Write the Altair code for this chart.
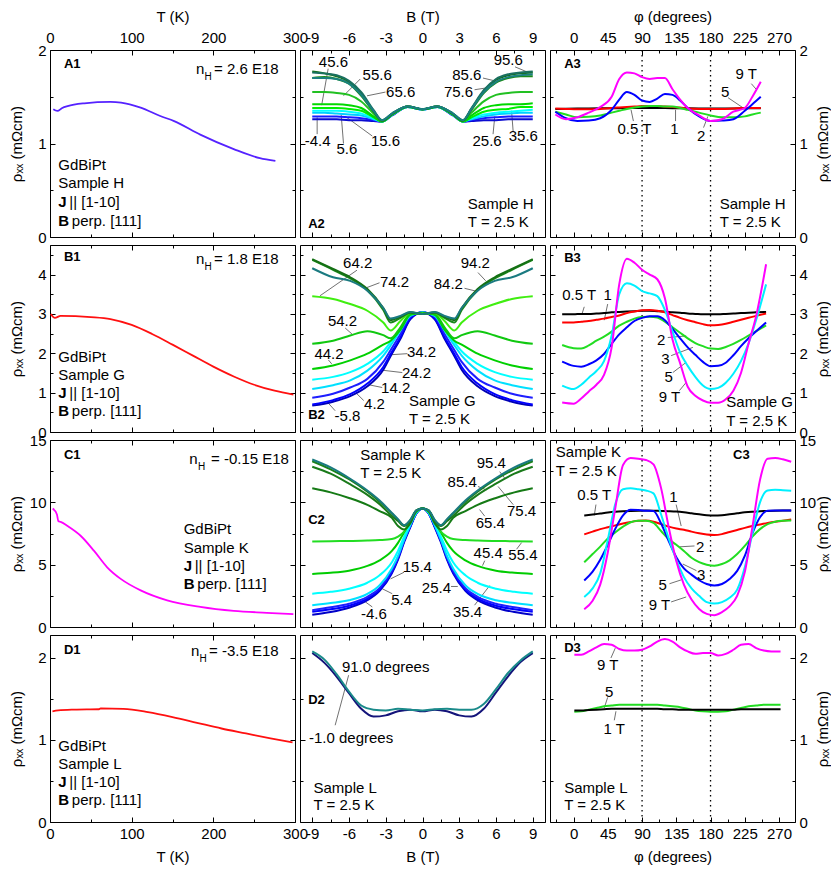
import altair as alt
import pandas as pd

FONT = "Liberation Sans"
FS = 15
W, H = 245, 187
RHO = "ρₓₓ (mΩcm)"

# ---------------- column 1 : rho(T) ----------------
A1_T = [4, 9, 15, 21.5, 42, 74, 87, 111, 135, 152, 184, 225, 257, 276]
A1_RHO = [1.366, 1.348, 1.38, 1.40, 1.43, 1.445, 1.438, 1.384, 1.294, 1.24, 1.095, 0.94, 0.843, 0.814]
B1_T = [1, 6, 13, 50, 74, 100, 125, 150, 175, 200, 225, 250, 275, 298]
B1_RHO = [3.0, 2.9, 2.95, 2.92, 2.87, 2.72, 2.49, 2.22, 1.94, 1.66, 1.41, 1.20, 1.05, 0.95]
C1_T = [3.3, 8.5, 10.2, 13, 21.5, 37.8, 54, 70, 86.6, 111, 143.5, 184, 225, 265.5, 298]
C1_RHO = [9.5, 9.02, 8.49, 8.44, 8.1, 7.3, 6.1, 4.79, 3.86, 2.94, 2.14, 1.61, 1.29, 1.14, 1.03]
D1_T = [3, 10, 30, 60, 62, 90, 120, 150, 180, 210, 240, 270, 297]
D1_RHO = [1.35, 1.36, 1.37, 1.375, 1.385, 1.38, 1.34, 1.28, 1.21, 1.14, 1.08, 1.02, 0.97]

# ---------------- column 2 : rho(B) ----------------
A2_B = [-9, -8, -7, -6, -5, -4, -3.3, -2.5, -1.2, 0, 1.2, 2.5, 3.3, 4, 5, 6, 7, 8, 9]
A2_R00 = [1.26, 1.26, 1.26, 1.25, 1.25, 1.24, 1.235, 1.30, 1.39, 1.365, 1.39, 1.30, 1.235, 1.24, 1.25, 1.25, 1.26, 1.26, 1.26]
A2_R01 = [1.29, 1.29, 1.29, 1.28, 1.27, 1.25, 1.235, 1.30, 1.39, 1.365, 1.39, 1.30, 1.235, 1.25, 1.27, 1.28, 1.29, 1.29, 1.29]
A2_R02 = [1.33, 1.33, 1.32, 1.31, 1.30, 1.26, 1.235, 1.305, 1.39, 1.365, 1.39, 1.305, 1.235, 1.26, 1.29, 1.31, 1.32, 1.33, 1.33]
A2_R03 = [1.35, 1.35, 1.35, 1.34, 1.32, 1.27, 1.235, 1.305, 1.39, 1.365, 1.39, 1.305, 1.235, 1.27, 1.31, 1.33, 1.34, 1.35, 1.36]
A2_R04 = [1.38, 1.38, 1.38, 1.37, 1.35, 1.28, 1.235, 1.305, 1.39, 1.366, 1.39, 1.305, 1.235, 1.28, 1.34, 1.36, 1.37, 1.39, 1.39]
A2_R05 = [1.42, 1.42, 1.42, 1.41, 1.38, 1.29, 1.235, 1.31, 1.393, 1.366, 1.393, 1.31, 1.235, 1.30, 1.38, 1.41, 1.42, 1.42, 1.43]
A2_R06 = [1.55, 1.55, 1.54, 1.52, 1.45, 1.32, 1.24, 1.31, 1.395, 1.366, 1.395, 1.31, 1.24, 1.33, 1.45, 1.52, 1.54, 1.55, 1.55]
A2_R07 = [1.70, 1.71, 1.69, 1.64, 1.51, 1.34, 1.245, 1.315, 1.395, 1.366, 1.395, 1.315, 1.245, 1.36, 1.54, 1.65, 1.70, 1.72, 1.72]
A2_R08 = [1.77, 1.75, 1.72, 1.66, 1.53, 1.35, 1.245, 1.315, 1.396, 1.366, 1.396, 1.315, 1.245, 1.37, 1.56, 1.68, 1.73, 1.75, 1.76]
A2_R09 = [1.76, 1.75, 1.73, 1.67, 1.55, 1.36, 1.25, 1.32, 1.397, 1.366, 1.397, 1.32, 1.25, 1.38, 1.57, 1.69, 1.74, 1.76, 1.77]
A2_R10 = [1.70, 1.70, 1.69, 1.64, 1.52, 1.35, 1.25, 1.32, 1.397, 1.366, 1.397, 1.32, 1.25, 1.37, 1.55, 1.66, 1.71, 1.73, 1.74]
A2_COLORS = ["#0a0ad0", "#1a1aff", "#00d0ff", "#00ffff", "#00f000", "#00d800", "#22c022",
             "#1a8a1a", "#127012", "#1a7060", "#1a8080"]

B2_B = [-9, -7.3, -5.9, -4.5, -3.2, -2.6, -1.8, -1, 0, 1, 1.8, 2.6, 3.2, 4.5, 5.9, 7.3, 9]
B2_R00 = [0.67, 0.77, 0.91, 1.16, 1.58, 1.93, 2.37, 2.86, 3.04, 2.86, 2.37, 1.93, 1.58, 1.16, 0.91, 0.77, 0.67]
B2_R01 = [0.70, 0.81, 0.96, 1.23, 1.65, 1.98, 2.41, 2.88, 3.04, 2.88, 2.41, 1.98, 1.65, 1.23, 0.96, 0.81, 0.70]
B2_R02 = [0.87, 0.97, 1.13, 1.35, 1.78, 2.08, 2.49, 2.92, 3.04, 2.92, 2.49, 2.08, 1.78, 1.35, 1.13, 0.97, 0.87]
B2_R03 = [1.09, 1.19, 1.31, 1.56, 1.94, 2.20, 2.58, 2.95, 3.04, 2.95, 2.58, 2.20, 1.94, 1.56, 1.31, 1.19, 1.09]
B2_R04 = [1.33, 1.40, 1.52, 1.73, 2.05, 2.28, 2.62, 2.97, 3.03, 2.97, 2.62, 2.28, 2.05, 1.73, 1.52, 1.40, 1.33]
B2_R05 = [1.60, 1.69, 1.82, 1.99, 2.22, 2.32, 2.60, 2.98, 3.03, 2.98, 2.60, 2.32, 2.22, 1.99, 1.82, 1.69, 1.60]
B2_R06 = [2.24, 2.32, 2.45, 2.56, 2.46, 2.38, 2.66, 3.00, 3.02, 3.00, 2.66, 2.38, 2.46, 2.56, 2.45, 2.32, 2.24]
B2_R07 = [3.45, 3.38, 3.25, 3.08, 2.78, 2.58, 2.82, 3.02, 3.01, 3.02, 2.82, 2.58, 2.78, 3.08, 3.25, 3.38, 3.45]
B2_R08 = [4.37, 4.12, 3.90, 3.60, 3.10, 2.78, 2.90, 3.03, 3.00, 3.03, 2.90, 2.78, 3.10, 3.60, 3.90, 4.12, 4.37]
B2_R09 = [4.39, 4.14, 3.93, 3.63, 3.15, 2.84, 2.93, 3.04, 3.00, 3.04, 2.93, 2.84, 3.15, 3.63, 3.93, 4.14, 4.39]
B2_R10 = [4.16, 3.93, 3.84, 3.59, 3.15, 2.88, 2.95, 3.05, 3.00, 3.05, 2.95, 2.88, 3.15, 3.59, 3.84, 3.93, 4.16]
B2_COLORS = ["#0000b4", "#0000ff", "#1e1eff", "#00e0ff", "#00ffff", "#00d000", "#10c810",
             "#40ee10", "#1a8a1a", "#157015", "#1a7a80"]

C2_B = [-9, -7.5, -6, -4.5, -3.5, -2.5, -2, -1.5, -1, -0.5, 0, 0.5, 1, 1.5, 2, 2.5, 3.5, 4.5, 6, 7.5, 9]
C2_R00 = [0.98, 1.2, 1.55, 2.15, 2.9, 4.3, 5.4, 6.8, 8.0, 9.1, 9.5, 9.1, 8.0, 6.8, 5.4, 4.3, 2.9, 2.15, 1.55, 1.2, 0.98]
C2_R01 = [1.22, 1.42, 1.70, 2.28, 3.0, 4.4, 5.5, 6.9, 8.05, 9.1, 9.5, 9.1, 8.05, 6.9, 5.5, 4.4, 3.0, 2.28, 1.70, 1.42, 1.22]
C2_R02 = [1.35, 1.58, 1.86, 2.42, 3.12, 4.5, 5.55, 6.95, 8.1, 9.12, 9.5, 9.12, 8.1, 6.95, 5.55, 4.5, 3.12, 2.42, 1.86, 1.58, 1.35]
C2_R03 = [1.75, 1.92, 2.14, 2.65, 3.35, 4.7, 5.7, 7.0, 8.15, 9.15, 9.5, 9.15, 8.15, 7.0, 5.7, 4.7, 3.35, 2.65, 2.14, 1.92, 1.75]
C2_R04 = [2.67, 2.82, 3.07, 3.55, 4.15, 5.2, 6.1, 7.25, 8.25, 9.2, 9.5, 9.2, 8.25, 7.25, 6.1, 5.2, 4.15, 3.55, 3.07, 2.82, 2.67]
C2_R05 = [4.26, 4.35, 4.52, 4.9, 5.35, 6.1, 6.75, 7.6, 8.45, 9.25, 9.5, 9.25, 8.45, 7.6, 6.75, 6.1, 5.35, 4.9, 4.52, 4.35, 4.26]
C2_R06 = [6.85, 6.88, 6.9, 6.93, 6.97, 7.05, 7.25, 7.65, 8.5, 9.3, 9.5, 9.3, 8.5, 7.65, 7.25, 7.05, 6.97, 6.93, 6.9, 6.88, 6.85]
C2_R07 = [11.13, 10.8, 10.35, 9.8, 9.3, 8.75, 8.1, 7.83, 8.3, 9.3, 9.5, 9.3, 8.3, 7.83, 8.1, 8.75, 9.3, 9.8, 10.35, 10.8, 11.13]
C2_R08 = [12.86, 12.3, 11.5, 10.6, 9.85, 8.9, 8.5, 8.1, 8.5, 9.35, 9.5, 9.35, 8.5, 8.1, 8.5, 8.9, 9.85, 10.6, 11.5, 12.3, 12.86]
C2_R09 = [13.3, 12.65, 11.85, 10.85, 10.05, 9.1, 8.6, 8.15, 8.55, 9.35, 9.5, 9.35, 8.55, 8.15, 8.6, 9.1, 10.05, 10.85, 11.85, 12.65, 13.3]
C2_R10 = [13.44, 12.8, 11.95, 10.95, 10.15, 9.15, 8.65, 8.17, 8.6, 9.35, 9.5, 9.35, 8.6, 8.17, 8.65, 9.15, 10.15, 10.95, 11.95, 12.8, 13.44]
C2_COLORS = ["#0000c8", "#0000ff", "#1e1eff", "#00e0ff", "#00ffff", "#00cc00", "#22dd22",
             "#157a15", "#1a7a1a", "#1a801a", "#1a7a80"]

D2_B = [-9, -8, -7, -6, -5, -4, -3, -2, -1, 0, 1, 2, 3, 4, 5, 6, 7, 8, 9]
D2_M1 = [2.06, 1.94, 1.77, 1.57, 1.38, 1.285, 1.30, 1.35, 1.37, 1.35, 1.37, 1.35, 1.30, 1.285, 1.38, 1.58, 1.78, 1.95, 2.06]
D2_91 = [2.08, 1.98, 1.80, 1.59, 1.42, 1.37, 1.36, 1.38, 1.37, 1.36, 1.375, 1.38, 1.37, 1.37, 1.44, 1.62, 1.82, 1.97, 2.08]
D2_COLORS = ["#14147a", "#1a8a8a"]

# ---------------- column 3 : rho(phi) ----------------
A3_PHI = [-24, -10, 5, 20, 35, 50, 60, 70, 80, 90, 100, 110, 120, 130, 140, 150, 165, 180, 195, 210, 225, 235, 246]
A3_05T = [1.37, 1.372, 1.374, 1.375, 1.376, 1.377, 1.378, 1.379, 1.38, 1.38, 1.38, 1.38, 1.379, 1.378, 1.377, 1.376, 1.375, 1.374, 1.374, 1.375, 1.376, 1.377, 1.378]
A3_1T = [1.375, 1.37, 1.365, 1.365, 1.37, 1.38, 1.385, 1.39, 1.395, 1.40, 1.40, 1.40, 1.395, 1.39, 1.385, 1.375, 1.37, 1.37, 1.37, 1.375, 1.38, 1.38, 1.38]
A3_2T = [1.34, 1.31, 1.28, 1.285, 1.30, 1.33, 1.35, 1.37, 1.385, 1.395, 1.40, 1.40, 1.395, 1.395, 1.38, 1.36, 1.33, 1.30, 1.28, 1.28, 1.29, 1.31, 1.33]
A3_5T = [1.34, 1.27, 1.24, 1.245, 1.27, 1.36, 1.47, 1.55, 1.52, 1.46, 1.445, 1.48, 1.53, 1.52, 1.46, 1.38, 1.29, 1.24, 1.245, 1.26, 1.35, 1.42, 1.50]
A3_9T = [1.31, 1.26, 1.28, 1.33, 1.39, 1.50, 1.69, 1.76, 1.75, 1.71, 1.69, 1.70, 1.70, 1.58, 1.47, 1.38, 1.30, 1.24, 1.26, 1.34, 1.38, 1.50, 1.66]
A3_COLORS = ["#000000", "#ff0000", "#22dd22", "#0000ff", "#ff00ff"]

B3_PHI = [-15, 0, 10, 20, 30, 40, 50, 60, 70, 80, 90, 100, 110, 120, 130, 140, 150, 160, 170, 180, 190, 200, 210, 220, 230, 240, 253]
B3_05T = [2.99, 2.99, 3.0, 3.0, 3.01, 3.02, 3.04, 3.05, 3.06, 3.07, 3.08, 3.08, 3.07, 3.06, 3.04, 3.03, 3.01, 3.0, 2.99, 2.99, 2.99, 3.0, 3.01, 3.02, 3.03, 3.04, 3.05]
B3_1T = [2.78, 2.78, 2.80, 2.82, 2.85, 2.88, 2.92, 2.96, 3.02, 3.06, 3.09, 3.10, 3.08, 3.04, 2.97, 2.90, 2.84, 2.79, 2.74, 2.71, 2.72, 2.75, 2.80, 2.85, 2.90, 2.95, 3.01]
B3_2T = [2.21, 2.13, 2.12, 2.20, 2.32, 2.42, 2.55, 2.70, 2.80, 2.88, 2.92, 2.93, 2.91, 2.80, 2.66, 2.52, 2.38, 2.26, 2.18, 2.12, 2.11, 2.16, 2.24, 2.34, 2.45, 2.56, 2.71]
B3_3T = [1.79, 1.68, 1.66, 1.72, 1.82, 1.98, 2.24, 2.48, 2.66, 2.82, 2.90, 2.94, 2.94, 2.84, 2.62, 2.38, 2.15, 1.96, 1.78, 1.67, 1.68, 1.76, 1.95, 2.18, 2.38, 2.56, 2.78]
B3_5T = [1.18, 1.09, 1.20, 1.38, 1.55, 1.80, 2.45, 3.50, 3.78, 3.72, 3.58, 3.52, 3.45, 3.10, 2.55, 2.02, 1.68, 1.40, 1.18, 1.09, 1.12, 1.25, 1.48, 1.80, 2.25, 2.85, 3.75]
B3_9T = [0.75, 0.72, 0.85, 1.03, 1.20, 1.45, 2.15, 3.75, 4.40, 4.30, 4.12, 4.0, 3.88, 3.40, 2.35, 1.75, 1.15, 0.92, 0.80, 0.74, 0.74, 0.83, 1.05, 1.50, 2.25, 2.95, 4.26]
B3_COLORS = ["#000000", "#ff0000", "#22dd22", "#0000ff", "#00f0ff", "#ff00ff"]

C3_PHI = [14, 25, 35, 45, 55, 65, 75, 85, 95, 105, 115, 125, 135, 145, 155, 165, 175, 185, 195, 205, 215, 225, 235, 245, 255, 265, 275, 286]
C3_05T = [8.94, 9.02, 9.1, 9.18, 9.24, 9.28, 9.31, 9.33, 9.34, 9.33, 9.31, 9.29, 9.26, 9.2, 9.12, 9.04, 8.97, 8.94, 8.97, 9.04, 9.12, 9.2, 9.25, 9.28, 9.31, 9.33, 9.34, 9.34]
C3_1T = [7.43, 7.65, 7.85, 8.0, 8.15, 8.3, 8.42, 8.52, 8.54, 8.45, 8.25, 8.05, 7.9, 7.8, 7.65, 7.52, 7.42, 7.38, 7.45, 7.62, 7.78, 7.95, 8.1, 8.22, 8.35, 8.45, 8.52, 8.62]
C3_2T = [5.19, 5.85, 6.45, 7.1, 7.6, 8.05, 8.4, 8.52, 8.52, 8.35, 7.7, 7.05, 6.6, 6.1, 5.55, 5.2, 5.0, 4.92, 5.05, 5.35, 5.85, 6.5, 7.25, 7.85, 8.25, 8.45, 8.52, 8.54]
C3_3T = [3.73, 4.45, 5.4, 6.6, 7.9, 8.95, 9.4, 9.38, 9.33, 9.3, 8.3, 6.9, 5.6, 4.7, 4.2, 3.75, 3.45, 3.33, 3.45, 3.85, 4.5, 5.7, 7.5, 8.8, 9.32, 9.35, 9.34, 9.34]
C3_5T = [2.41, 3.1, 4.3, 7.0, 9.9, 11.05, 11.12, 11.05, 10.95, 10.72, 9.02, 7.1, 5.4, 4.0, 3.1, 2.5, 2.0, 1.88, 2.0, 2.35, 3.0, 4.8, 7.5, 10.0, 10.95, 11.0, 10.97, 10.93]
C3_9T = [1.42, 2.1, 3.4, 6.0, 9.6, 13.0, 13.55, 13.5, 13.4, 13.05, 11.14, 8.0, 5.3, 3.4, 2.2, 1.45, 1.05, 0.95, 1.2, 1.65, 2.5, 4.4, 8.0, 11.8, 13.5, 13.55, 13.45, 13.25]
C3_COLORS = B3_COLORS

D3_PHI = [1, 10, 20, 30, 40, 50, 60, 70, 80, 90, 100, 110, 120, 130, 140, 150, 160, 170, 180, 190, 200, 210, 220, 230, 240, 250, 260, 272]
D3_5T = [1.345, 1.35, 1.37, 1.39, 1.41, 1.42, 1.43, 1.43, 1.43, 1.43, 1.43, 1.43, 1.42, 1.41, 1.40, 1.38, 1.36, 1.35, 1.345, 1.345, 1.35, 1.37, 1.39, 1.41, 1.42, 1.43, 1.43, 1.43]
D3_1T = [1.36, 1.36, 1.365, 1.37, 1.375, 1.38, 1.38, 1.38, 1.38, 1.38, 1.38, 1.38, 1.375, 1.375, 1.37, 1.37, 1.37, 1.37, 1.37, 1.37, 1.37, 1.37, 1.375, 1.375, 1.375, 1.375, 1.375, 1.375]
D3_9T = [2.04, 2.04, 2.08, 2.13, 2.17, 2.16, 2.11, 2.09, 2.09, 2.10, 2.14, 2.20, 2.23, 2.20, 2.13, 2.08, 2.05, 2.06, 2.06, 2.03, 2.05, 2.10, 2.16, 2.17, 2.12, 2.09, 2.08, 2.08]
D3_COLORS = ["#22dd22", "#000000", "#ff00ff"]

# ---------------- axes ----------------
T_DOM, B_DOM, P_DOM = [0, 300], [-10, 10], [-31, 291]
YA, YB, YC, YD = [0, 2], [0, 4.75], [0, 15], [0, 2.28]
T_MAJ, T_MIN = [0, 100, 200, 300], [50, 150, 250]
B_MAJ, B_MIN = [-9, -6, -3, 0, 3, 6, 9], [-7.5, -4.5, -1.5, 1.5, 4.5, 7.5]
P_MAJ, P_MIN = [0, 45, 90, 135, 180, 225, 270], [-22.5, 22.5, 67.5, 112.5, 157.5, 202.5, 247.5]
YA_MAJ, YA_MIN = [0, 1, 2], [0.5, 1.5]
YB_MAJ, YB_MIN = [0, 1, 2, 3, 4], [0.5, 1.5, 2.5, 3.5, 4.5]
YC_MAJ, YC_MIN = [0, 5, 10, 15], [2.5, 7.5, 12.5]
YD_MAJ, YD_MIN = [0, 1, 2], [0.5, 1.5]
PHI_LINES = [90, 180]

LPAD = {"bottom": 4, "top": 5, "left": 4, "right": 4}
EXT = {"bottom": 24, "top": 24, "left": 23, "right": 24}
TPAD = {"bottom": 8, "top": 7, "left": 8, "right": 16}


def mk_axis(orient, values, size, labels=False, title=None):
    kw = dict(orient=orient, values=values, tickSize=size, offset=-size, domain=False, grid=False,
              ticks=True, tickColor="black", tickWidth=1, labels=labels, title=title)
    if labels:
        kw.update(labelFont=FONT, labelFontSize=FS, labelColor="black", labelPadding=LPAD[orient],
                  labelExpr="'' + datum.value", labelOverlap=False, labelFlush=False,
                  minExtent=EXT[orient], maxExtent=EXT[orient])
    else:
        kw.update(minExtent=0, maxExtent=0)
    if title:
        kw.update(titleFont=FONT, titleFontSize=FS, titleFontWeight="normal", titleColor="black",
                  titlePadding=TPAD[orient])
        if orient == "right":
            kw["titleAngle"] = 270
    return alt.Axis(**kw)


def series_df(xs, ys_list, colors):
    rows = []
    for k, (ys, c) in enumerate(zip(ys_list, colors)):
        for x, y in zip(xs, ys):
            rows.append({"x": x, "y": y, "s": k, "c": c})
    return pd.DataFrame(rows)


def panel(xdom, ydom, xmaj, xmin_, ymaj, ymin_, lines, width=2.0, bold=(), label=(), left=(), center=(),
          sub=(), lead=(), vlines=None, top_title=None, bot_title=None, ylab_left=False, ylab_right=False):
    sx = alt.Scale(domain=xdom, nice=False, zero=False)
    sy = alt.Scale(domain=ydom, nice=False, zero=False)

    def XY():
        return dict(x=alt.X("x:Q", scale=sx, axis=None), y=alt.Y("y:Q", scale=sy, axis=None))

    layers = []
    if vlines is not None:
        layers.append(alt.Chart(pd.DataFrame({"x": vlines})).mark_rule(
            color="black", strokeWidth=1.3, strokeDash=[1.5, 3.5]).encode(
            x=alt.X("x:Q", scale=sx, axis=None)))
    if lead:
        ld = pd.DataFrame(list(lead), columns=["x", "y", "x2", "y2"])
        layers.append(alt.Chart(ld).mark_rule(color="#333333", strokeWidth=0.7).encode(
            **XY(), x2="x2:Q", y2="y2:Q"))
    layers.append(alt.Chart(lines).mark_line(interpolate="monotone", strokeWidth=width, clip=True).encode(
        **XY(), color=alt.Color("c:N", scale=None), detail="s:N"))

    def tl(rows, align, weight, size):
        d = pd.DataFrame(list(rows), columns=["t", "x", "y"])
        return alt.Chart(d).mark_text(align=align, baseline="middle", font=FONT, fontSize=size,
                                      fontWeight=weight, color="black").encode(**XY(), text="t:N")
    if label:
        layers.append(tl(label, "left", "bold", 13))
    if bold:
        layers.append(tl(bold, "left", "bold", FS))
    if left:
        layers.append(tl(left, "left", "normal", FS))
    if center:
        layers.append(tl(center, "center", "normal", FS))
    if sub:
        layers.append(tl(sub, "left", "normal", 10))

    dummy = pd.DataFrame({"x": [xdom[0]], "y": [ydom[0]]})

    def ax_layer(axx, axy):
        return alt.Chart(dummy).mark_point(opacity=0).encode(
            x=alt.X("x:Q", scale=sx, axis=axx), y=alt.Y("y:Q", scale=sy, axis=axy))

    layers += [
        ax_layer(mk_axis("bottom", xmaj, 5, bot_title is not None, bot_title),
                 mk_axis("left", ymaj, 5, ylab_left, RHO if ylab_left else None)),
        ax_layer(mk_axis("top", xmaj, 5, top_title is not None, top_title),
                 mk_axis("right", ymaj, 5, ylab_right, RHO if ylab_right else None)),
        ax_layer(mk_axis("bottom", xmin_, 3), mk_axis("left", ymin_, 3)),
        ax_layer(mk_axis("top", xmin_, 3), mk_axis("right", ymin_, 3)),
    ]
    return alt.layer(*layers).resolve_axis(x="independent", y="independent").properties(width=W, height=H)


def block(x, y0, y1, y2, y3, sample, dxj, dxb):
    left = [("GdBiPt", x, y0), (sample, x, y1), ("|| [1-10]", x + dxj, y2), ("perp. [111]", x + dxb, y3)]
    bold = [("J", x, y2), ("B", x, y3)]
    return left, bold


# ---------- column 1 panels ----------
l, b = block(10.2, 0.77, 0.573, 0.375, 0.176, "Sample H", 13.5, 16.5)
pA1 = panel(T_DOM, YA, T_MAJ, T_MIN, YA_MAJ, YA_MIN, series_df(A1_T, [A1_RHO], ["#5522ff"]), width=1.8,
            label=[("A1", 17, 1.85)], bold=b,
            left=l + [("n", 178.8, 1.80), ("= 2.6 E18", 200.8, 1.80)], sub=[("H", 189.2, 1.71)],
            top_title="T (K)", ylab_left=True)
l, b = block(10.2, 1.91, 1.46, 1.0, 0.54, "Sample G", 13.5, 16.5)
pB1 = panel(T_DOM, YB, T_MAJ, T_MIN, YB_MAJ, YB_MIN, series_df(B1_T, [B1_RHO], ["#ff1010"]), width=1.8,
            label=[("B1", 17, 4.44)], bold=b,
            left=l + [("n", 178.8, 4.39), ("= 1.8 E18", 200.8, 4.39)], sub=[("H", 189.2, 4.19)],
            ylab_left=True)
l, b = block(163.7, 7.83, 6.37, 4.92, 3.47, "Sample K", 13.5, 16.5)
pC1 = panel(T_DOM, YC, T_MAJ, T_MIN, YC_MAJ, YC_MIN, series_df(C1_T, [C1_RHO], ["#ff00ff"]), width=1.8,
            label=[("C1", 17, 13.8)], bold=b,
            left=l + [("n", 170.6, 13.47), ("= -0.15 E18", 197.1, 13.47)], sub=[("H", 181.2, 12.86)],
            ylab_left=True)
l, b = block(10.2, 0.93, 0.71, 0.49, 0.27, "Sample L", 13.5, 16.5)
pD1 = panel(T_DOM, YD, T_MAJ, T_MIN, YD_MAJ, YD_MIN, series_df(D1_T, [D1_RHO], ["#ff1010"]), width=1.8,
            label=[("D1", 17, 2.10)], bold=b,
            left=l + [("n", 172.6, 2.085), ("= -3.5 E18", 194.7, 2.085)], sub=[("H", 183, 1.99)],
            bot_title="T (K)", ylab_left=True)

# ---------- column 2 panels ----------
pA2 = panel(B_DOM, YA, B_MAJ, B_MIN, YA_MAJ, YA_MIN,
            series_df(A2_B, [A2_R00, A2_R01, A2_R02, A2_R03, A2_R04, A2_R05, A2_R06, A2_R07, A2_R08, A2_R09, A2_R10], A2_COLORS),
            label=[("A2", -9.33, 0.14)],
            left=[("Sample H", 3.7, 0.357), ("T = 2.5 K", 3.7, 0.16)],
            center=[("45.6", -7.27, 1.87), ("55.6", -3.7, 1.73), ("65.6", -1.78, 1.55), ("-4.4", -8.56, 1.03),
                    ("5.6", -6.17, 0.94), ("15.6", -3.02, 1.03), ("95.6", 7.0, 1.89), ("85.6", 3.62, 1.73),
                    ("75.6", 2.94, 1.55), ("25.6", 5.27, 1.03), ("35.6", 8.23, 1.08)],
            lead=[(-7.7, 1.80, -8.23, 1.41), (-5.08, 1.69, -6.45, 1.51), (-3.02, 1.55, -4.53, 1.51),
                  (-8.6, 1.10, -8.6, 1.28), (-6.45, 1.0, -6.64, 1.31), (-4.1, 1.08, -6.3, 1.29),
                  (7.55, 1.82, 8.64, 1.76), (4.94, 1.70, 5.9, 1.67), (4.25, 1.575, 5.49, 1.60),
                  (5.76, 1.10, 5.9, 1.29), (7.4, 1.13, 7.27, 1.35)],
            top_title="B (T)")
pB2 = panel(B_DOM, YB, B_MAJ, B_MIN, YB_MAJ, YB_MIN,
            series_df(B2_B, [B2_R00, B2_R01, B2_R02, B2_R03, B2_R04, B2_R05, B2_R06, B2_R07, B2_R08, B2_R09, B2_R10], B2_COLORS),
            label=[("B2", -9.33, 0.42)],
            left=[("Sample G", -1.1, 0.78), ("T = 2.5 K", -1.1, 0.33)],
            center=[("64.2", -5.29, 4.30), ("74.2", -2.28, 3.82), ("54.2", -6.53, 2.81), ("44.2", -7.63, 1.99),
                    ("34.2", -0.08, 2.02), ("24.2", -0.49, 1.51), ("14.2", -2.19, 1.12), ("4.2", -3.92, 0.71),
                    ("-5.8", -6.12, 0.40), ("94.2", 4.31, 4.30), ("84.2", 2.11, 3.75)],
            lead=[(-5.35, 4.11, -8.37, 3.46), (-3.51, 3.79, -4.53, 3.67), (-6.31, 2.64, -5.76, 2.49),
                  (-7.68, 1.83, -7.41, 1.73), (-1.23, 1.99, -2.74, 1.96), (-1.65, 1.51, -3.29, 1.57),
                  (-3.29, 1.13, -4.39, 1.20), (-4.8, 0.80, -5.35, 0.97), (-7.13, 0.54, -7.68, 0.73),
                  (4.53, 4.05, 5.16, 3.84), (3.43, 3.65, 4.34, 3.58)])
pC2 = panel(B_DOM, YC, B_MAJ, B_MIN, YC_MAJ, YC_MIN,
            series_df(C2_B, [C2_R00, C2_R01, C2_R02, C2_R03, C2_R04, C2_R05, C2_R06, C2_R07, C2_R08, C2_R09, C2_R10], C2_COLORS),
            label=[("C2", -9.33, 8.62)],
            left=[("Sample K", -5.08, 13.78), ("T = 2.5 K", -5.08, 12.33)],
            center=[("95.4", 5.62, 13.12), ("85.4", 3.24, 11.67), ("75.4", 8.09, 9.29), ("65.4", 5.54, 8.36),
                    ("55.4", 8.2, 5.8), ("45.4", 5.36, 5.9), ("15.4", -0.42, 4.79), ("25.4", 1.14, 3.12),
                    ("5.4", -1.7, 2.17), ("-4.6", -3.97, 1.08), ("35.4", 3.68, 1.21)],
            lead=[(6.3, 12.46, 6.72, 11.93), (4.53, 11.27, 5.21, 11.0), (7.41, 9.81, 6.17, 11.27),
                  (5.08, 8.89, 4.66, 9.42), (7.68, 6.24, 8.09, 6.77), (5.08, 5.32, 4.9, 4.92),
                  (-1.51, 4.39, -2.61, 3.86), (2.33, 3.25, 2.88, 3.25), (-2.47, 2.67, -3.29, 3.07),
                  (-4.1, 1.61, -4.66, 2.01), (4.25, 1.75, 5.49, 3.33)])
pD2 = panel(B_DOM, YD, B_MAJ, B_MIN, YD_MAJ, YD_MIN, series_df(D2_B, [D2_M1, D2_91], D2_COLORS),
            label=[("D2", -9.33, 1.49)],
            left=[("91.0 degrees", -6.58, 1.89), ("-1.0 degrees", -9.27, 1.03),
                  ("Sample L", -8.9, 0.42), ("T = 2.5 K", -8.9, 0.21)],
            lead=[(-6.03, 1.79, -7.13, 1.18)],
            bot_title="B (T)")

# ---------- column 3 panels ----------
pA3 = panel(P_DOM, YA, P_MAJ, P_MIN, YA_MAJ, YA_MIN,
            series_df(A3_PHI, [A3_05T, A3_1T, A3_2T, A3_5T, A3_9T], A3_COLORS), vlines=PHI_LINES,
            label=[("A3", -12.4, 1.85)],
            left=[("Sample H", 192, 0.357), ("T = 2.5 K", 192, 0.16)],
            center=[("9 T", 227, 1.74), ("5", 199.3, 1.55), ("0.5 T", 79.9, 1.15), ("1", 132.6, 1.15), ("2", 167.7, 1.08)],
            lead=[(233.6, 1.64, 240, 1.58), (203, 1.49, 224.8, 1.37), (78.6, 1.24, 75.5, 1.36),
                  (134, 1.24, 134, 1.36), (170.8, 1.17, 176.5, 1.29)],
            top_title="φ (degrees)", ylab_right=True)
pB3 = panel(P_DOM, YB, P_MAJ, P_MIN, YB_MAJ, YB_MIN,
            series_df(B3_PHI, [B3_05T, B3_1T, B3_2T, B3_3T, B3_5T, B3_9T], B3_COLORS), vlines=PHI_LINES,
            label=[("B3", -12.4, 4.41)],
            left=[("Sample G", 200.7, 0.75), ("T = 2.5 K", 200.7, 0.27)],
            center=[("0.5 T", 7.4, 3.48), ("1", 44.8, 3.48), ("2", 115, 2.33), ("3", 120.8, 1.85),
                    ("5", 125.1, 1.39), ("9 T", 126, 0.88)],
            lead=[(14, 3.18, 10.9, 2.99), (44.8, 3.25, 40.3, 2.84), (123.8, 2.40, 148, 2.44),
                  (128.2, 1.94, 156.8, 2.15), (130.4, 1.51, 148, 1.77), (139, 1.05, 148, 1.26)],
            ylab_right=True)
pC3 = panel(P_DOM, YC, P_MAJ, P_MIN, YC_MAJ, YC_MIN,
            series_df(C3_PHI, [C3_05T, C3_1T, C3_2T, C3_3T, C3_5T, C3_9T], C3_COLORS), vlines=PHI_LINES,
            label=[("C3", 209.5, 13.78)],
            left=[("Sample K", -23.3, 14.05), ("T = 2.5 K", -23.3, 12.5)],
            center=[("0.5 T", 27.2, 10.61), ("1", 131.3, 10.4), ("2", 166.4, 6.43), ("3", 167.7, 4.21),
                    ("5", 117.2, 3.33), ("9 T", 112.8, 1.75)],
            lead=[(29.4, 9.82, 27.2, 8.94), (134.8, 9.82, 141.4, 8.1), (158.9, 6.5, 139.1, 6.43),
                  (161.5, 4.52, 143.6, 5.05), (126, 3.47, 141.4, 3.78), (128.2, 2.01, 148, 2.41)],
            ylab_right=True)
pD3 = panel(P_DOM, YD, P_MAJ, P_MIN, YD_MAJ, YD_MIN,
            series_df(D3_PHI, [D3_5T, D3_1T, D3_9T], D3_COLORS), vlines=PHI_LINES,
            label=[("D3", -12.4, 2.12)],
            left=[("Sample L", -12.4, 0.42), ("T = 2.5 K", -12.4, 0.21)],
            center=[("9 T", 44.8, 1.91), ("5", 46.9, 1.59), ("1 T", 53.5, 1.14)],
            lead=[(49.1, 2.0, 54.8, 2.12), (44.8, 1.52, 40.3, 1.39), (53.5, 1.24, 55.7, 1.35)],
            bot_title="φ (degrees)", ylab_right=True)

chart = alt.concat(pA1, pA2, pA3, pB1, pB2, pB3, pC1, pC2, pC3, pD1, pD2, pD3,
                   columns=3, spacing={"row": 8, "column": 5}, bounds="flush").properties(
    background="white", padding={"left": 0, "top": 0, "right": 0, "bottom": 0}
).configure_view(stroke="black", strokeWidth=1)

chart.save("out.html", embed_options={"renderer": "svg", "actions": False})
